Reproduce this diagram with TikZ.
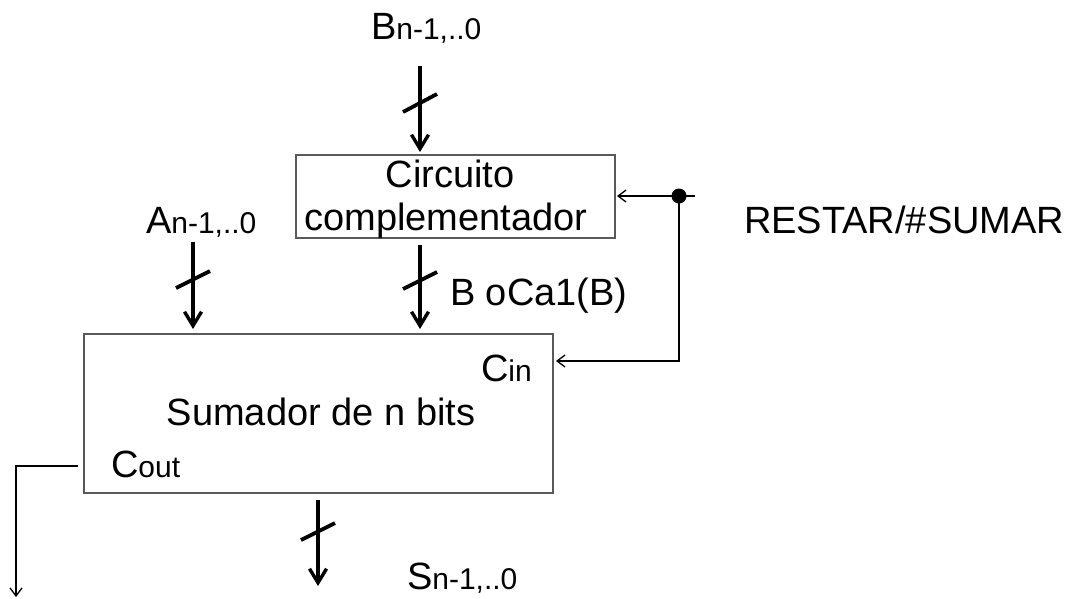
\documentclass[tikz,border=0pt]{standalone}
\usepackage{fontspec}
\setmainfont{Liberation Sans}
\usetikzlibrary{arrows.meta}
\begin{document}
\begin{tikzpicture}[x=1pt,y=-1pt,
  every node/.style={inner sep=0pt,outer sep=0pt,font=\fontsize{38}{41}\selectfont},
  block/.style={draw=black!65,line width=1.4pt,fill=none},
  bus/.style={line width=3.8pt,-{Straight Barb[length=14pt,width=17pt,line width=3.4pt]}},
  busmark/.style={line width=3.8pt},
  ctrl/.style={line width=1.3pt},
  ctrlarrow/.style={ctrl,-{Straight Barb[length=8pt,width=12pt,line width=1.3pt]}},
  lbl/.style={anchor=base west}]
\useasboundingbox (0,0) rectangle (1073,598);
\newcommand{\sub}[1]{{\fontsize{30}{32}\selectfont #1}}

% blocks
\node[block,minimum width=319pt,minimum height=83pt] (comp) at (455.5,196.5) {};
\node[block,minimum width=469pt,minimum height=159pt] (sum) at (318.5,413.5) {};

% block texts
\node[anchor=base] (t1) at (450,187) {Circuito};
\node[anchor=base] (t2) at (446,230) {complementador};
\node[anchor=base] (t3) at (321,425) {Sumador de n bits};
\node[lbl] (cin) at (481,381) {C\sub{in}};
\node[lbl] (cout) at (111,477) {C\sub{out}};

% signal labels
\node[lbl] (lb) at (371,39) {B\sub{n-1,..0}};
\node[lbl] (la) at (146,233) {A\sub{n-1,..0}};
\node[lbl] (lbo) at (450,305) {B oCa1(B)};
\node[lbl] (ls) at (407,589) {S\sub{n-1,..0}};
\node[lbl] (lr) at (744,233) {RESTAR/\#SUMAR};

% bus inputs and outputs
\coordinate (bin) at (420,66);
\coordinate (ain) at (193,242);
\coordinate (sout) at (318,586);
\draw[bus,shorten >=3pt] (bin) -- (comp.north -| bin);
\draw[bus,shorten >=5pt] (ain) -- (sum.north -| ain);
\draw[bus,shorten <=7pt,shorten >=5pt] (comp.south -| bin) -- (sum.north -| bin);
\draw[bus,shorten <=7pt] (sum.south -| sout) -- (sout);

% bus width marks
\draw[busmark] (403,112) -- (437,94);
\draw[busmark] (176,288) -- (210,271);
\draw[busmark] (403,289) -- (437,272);
\draw[busmark] (301,540) -- (335,523);

% control line with junction
\coordinate (cend) at (695,196);
\coordinate (dot) at (679,196);
\coordinate (cinpt) at (679,361);
\draw[ctrl] (cend) -- (dot);
\draw[ctrlarrow,shorten >=2pt] (dot) -- (comp.east |- dot);
\draw[ctrlarrow,shorten >=3pt] (dot) -- (cinpt) -- (sum.east |- cinpt);
\fill (dot) circle (7.5pt);

% carry out
\coordinate (co1) at (78,466);
\coordinate (co2) at (16,466);
\coordinate (co3) at (16,597);
\draw[ctrlarrow] (co1) -- (co2) -- (co3);
\end{tikzpicture}
\end{document}
